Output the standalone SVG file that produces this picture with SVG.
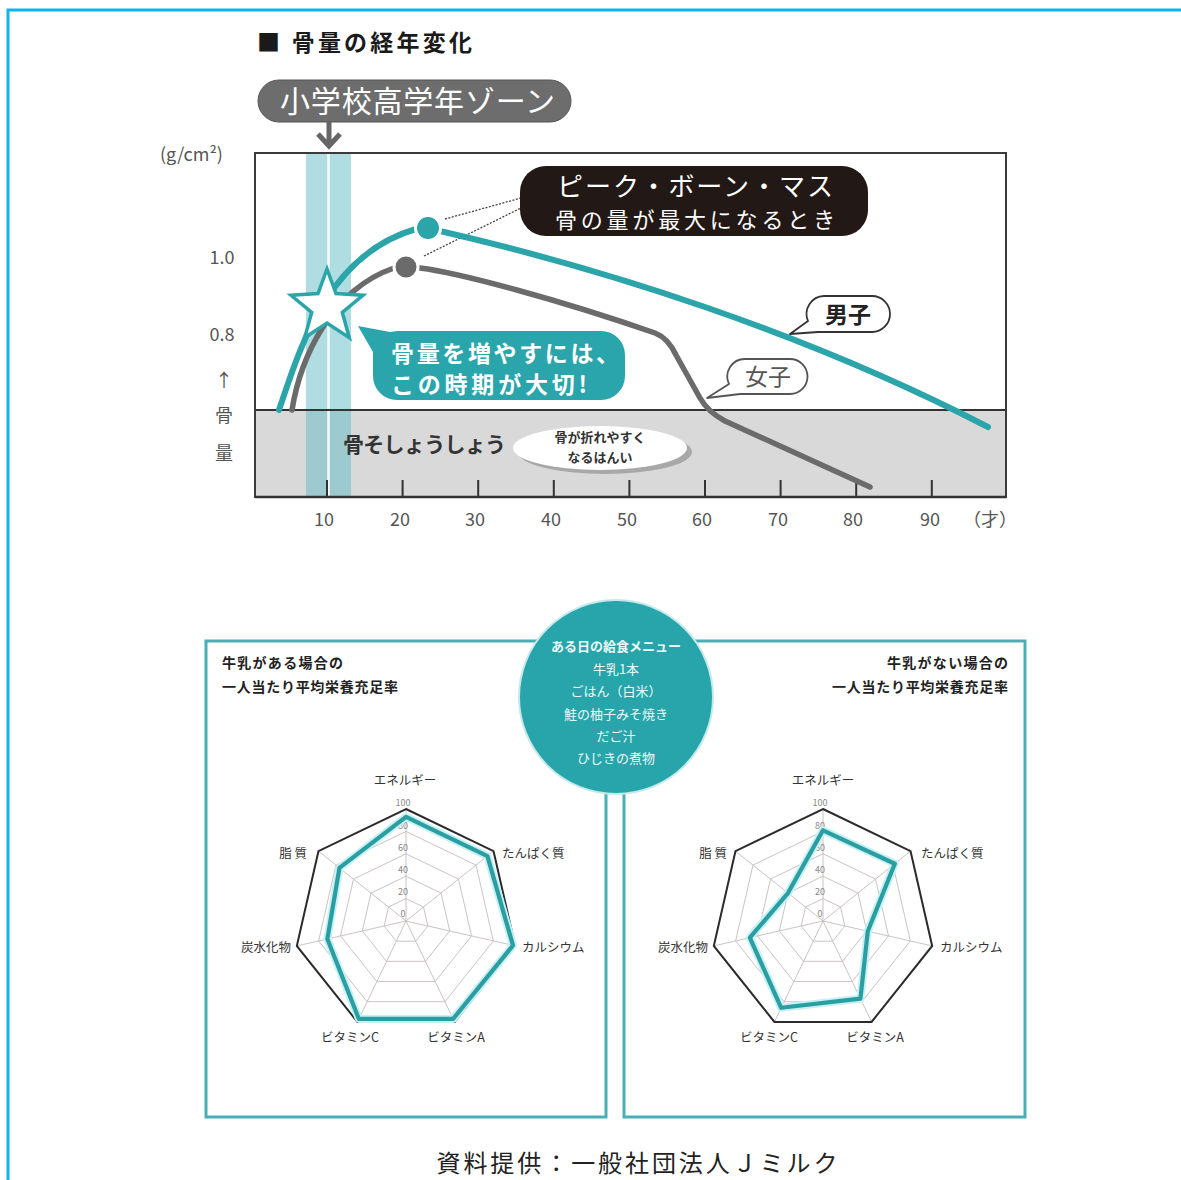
<svg xmlns="http://www.w3.org/2000/svg" xmlns:xlink="http://www.w3.org/1999/xlink" width="1181" height="1180" viewBox="0 0 1181 1180">
<style>
text{font-family:"Noto Sans CJK JP","Noto Sans",sans-serif}
.ax{fill:#555;font-size:18px}
.tick{stroke:#333;stroke-width:2}
.grid{fill:none;stroke:#c4bcbc;stroke-width:0.9}
.outer{fill:none;stroke:#2b2b2b;stroke-width:2}
.data-glow{fill:none;stroke:#c6f1f4;stroke-width:8;stroke-linejoin:round}
.data{fill:none;stroke:#2a9ea1;stroke-width:4.2;stroke-linejoin:round}
.rl{fill:#333;font-size:12.5px}
.sc{fill:#888;font-size:9px;text-anchor:middle}
.box{fill:#fff;stroke:#4aafb4;stroke-width:3}
.bt{fill:#222;font-size:14px;font-weight:bold}
.menu{fill:#eef9f9;font-size:13px;text-anchor:middle}
.lead{stroke:#444;stroke-width:1.3;stroke-dasharray:2 1.5;fill:none}
</style>
<defs>
<g id="radar-grid">
<polygon class="grid" points="0,-22.4 17.51,-13.97 21.84,4.98 9.72,20.18 -9.72,20.18 -21.84,4.98 -17.51,-13.97"/>
<polygon class="grid" points="0,-44.8 35.02,-27.93 43.68,9.97 19.44,40.36 -19.44,40.36 -43.68,9.97 -35.02,-27.93"/>
<polygon class="grid" points="0,-67.2 52.54,-41.9 65.51,14.95 29.16,60.55 -29.16,60.55 -65.51,14.95 -52.54,-41.9"/>
<polygon class="grid" points="0,-89.6 70.05,-55.86 87.35,19.94 38.88,80.73 -38.88,80.73 -87.35,19.94 -70.05,-55.86"/>
<path class="grid" d="M0,0L0,-112M0,0L87.56,-69.83M0,0L109.19,24.92M0,0L48.6,100.91M0,0L-48.6,100.91M0,0L-109.19,24.92M0,0L-87.56,-69.83"/>
<polygon class="outer" points="0,-112 87.56,-69.83 109.19,24.92 48.6,100.91 -48.6,100.91 -109.19,24.92 -87.56,-69.83"/>
<text class="sc" x="-3" y="-115">100</text>
<text class="sc" x="-3" y="-92">80</text>
<text class="sc" x="-3" y="-70">60</text>
<text class="sc" x="-3" y="-48">40</text>
<text class="sc" x="-3" y="-26">20</text>
<text class="sc" x="-3" y="-4">0</text>
</g>
</defs>
<rect width="1181" height="1180" fill="#fff"/>
<path d="M8,1180V10H1181" fill="none" stroke="#10b4ec" stroke-width="3"/>

<g id="title">
<text x="257" y="51" font-size="23" font-weight="bold" fill="#1a1a1a" textLength="215" lengthAdjust="spacing">■ 骨量の経年変化</text>
</g>

<g id="zone-label">
<rect x="258" y="80" width="313" height="42" rx="21" fill="#6d6d6d" stroke="#555" stroke-width="1"/>
<text x="280" y="112" font-size="30" fill="#fff" textLength="275" lengthAdjust="spacing">小学校高学年ゾーン</text>
</g>

<g id="chart-frame">
<rect x="255" y="153" width="751" height="344" fill="#fff"/>
<rect x="255" y="410" width="751" height="87" fill="#d9d9d9"/>
<rect x="306" y="153" width="45" height="344" fill="#5fbcc6" fill-opacity="0.5"/>
<line x1="328.5" y1="153" x2="328.5" y2="497" stroke="#f4fbfb" stroke-width="2.5"/>
<line x1="255" y1="410" x2="1006" y2="410" stroke="#333" stroke-width="1.8"/>
<rect x="255" y="153" width="751" height="344" fill="none" stroke="#3a3a3a" stroke-width="2"/>
<line x1="255" y1="497" x2="1006" y2="497" stroke="#333" stroke-width="2.6"/>
<path class="tick" d="M327,480V497M402.6,480V497M478.2,480V497M553.8,480V497M629.4,480V497M705,480V497M780.6,480V497M856.2,480V497M931.8,480V497"/>
<text class="ax" x="160" y="161" font-size="17">(g/cm²)</text>
<text class="ax" x="222" y="264" text-anchor="middle">1.0</text>
<text class="ax" x="222" y="341" text-anchor="middle">0.8</text>
<text class="ax" x="224" y="387" text-anchor="middle">↑</text>
<text class="ax" x="224" y="422" text-anchor="middle">骨</text>
<text class="ax" x="224" y="460" text-anchor="middle">量</text>
<g class="ax" text-anchor="middle">
<text x="324" y="526">10</text><text x="400" y="526">20</text><text x="475" y="526">30</text>
<text x="551" y="526">40</text><text x="627" y="526">50</text><text x="702" y="526">60</text>
<text x="778" y="526">70</text><text x="853" y="526">80</text><text x="930" y="526">90</text>
<text x="990" y="526">（才）</text>
</g>
<text x="343" y="452" font-size="21" font-weight="bold" fill="#333" textLength="163" lengthAdjust="spacing">骨そしょうしょう</text>
</g>

<g id="fracture-zone">
<ellipse cx="605" cy="452" rx="87" ry="22" fill="#a8a8a8"/>
<ellipse cx="600" cy="448" rx="87" ry="22" fill="#fff"/>
<text x="600" y="442" font-size="13" font-weight="bold" fill="#333" text-anchor="middle">骨が折れやすく</text>
<text x="600" y="462" font-size="13" font-weight="bold" fill="#333" text-anchor="middle">なるはんい</text>
</g>

<g id="connectors">
<path d="M329,122V145M318,134L329,146L340,134" fill="none" stroke="#666" stroke-width="5"/>
<path class="lead" d="M445,219L521,198"/>
<path class="lead" d="M424,256L521,208"/>
</g>

<g id="female-curve">
<path d="M292,410C300,360 330,290 394,268" fill="none" stroke="#6b6b6b" stroke-width="5.5" stroke-linecap="round"/>
<path d="M420,268C460,273 560,300 655,333Q668,338 676,355L700,398Q708,412 725,421L870,487" fill="none" stroke="#6b6b6b" stroke-width="5.5" stroke-linecap="round" stroke-linejoin="round"/>
<circle cx="406" cy="267" r="12" fill="#6b6b6b" stroke="#fff" stroke-width="3"/>
</g>

<g id="male-curve">
<path d="M279,410C298,355 325,255 416,229" fill="none" stroke="#2ba5aa" stroke-width="6" stroke-linecap="round"/>
<path d="M440,231C600,268 800,330 988,427" fill="none" stroke="#2ba5aa" stroke-width="6" stroke-linecap="round"/>
<circle cx="428" cy="228" r="12.5" fill="#2ba5aa" stroke="#fff" stroke-width="3"/>
</g>

<g id="star">
<polygon points="327,269 336,293.5 363,295.3 342.3,312.3 349.3,337.8 327,323 304.7,337.8 311.7,312.3 291,295.3 318,293.5" fill="#fff" stroke="#2ba5aa" stroke-width="3.5" stroke-linejoin="miter"/>
</g>

<g id="callout-important">
<path d="M397,331H601A24,24 0 0 1 625,355V376A24,24 0 0 1 601,400H397A24,24 0 0 1 373,376V352L358,326L390,332Z" fill="#2ba5ac"/>
<text x="391" y="362" font-size="23" font-weight="bold" fill="#fff" textLength="228" lengthAdjust="spacing">骨量を増やすには、</text>
<text x="391" y="393" font-size="23" font-weight="bold" fill="#fff" textLength="196" lengthAdjust="spacing">この時期が大切!</text>
</g>

<g id="callout-peak">
<rect x="520" y="166" width="348" height="70" rx="26" fill="#221815"/>
<text x="695" y="196" font-size="26" fill="#fff" text-anchor="middle" textLength="276" lengthAdjust="spacing">ピーク・ボーン・マス</text>
<text x="695" y="228" font-size="22" fill="#fff" text-anchor="middle" textLength="280" lengthAdjust="spacing">骨の量が最大になるとき</text>
</g>

<g id="label-male">
<path d="M824,296H872A18,18 0 0 1 872,332H818L790,334L808,321A18,18 0 0 1 824,296Z" fill="#fff" stroke="#333" stroke-width="1.8" stroke-linejoin="round"/>
<text x="848" y="323" font-size="23" font-weight="bold" fill="#222" text-anchor="middle">男子</text>
</g>

<g id="label-female">
<path d="M745,359H790A17.5,17.5 0 0 1 790,394H740L707,398L729,384A17.5,17.5 0 0 1 745,359Z" fill="#fff" stroke="#555" stroke-width="1.8" stroke-linejoin="round"/>
<text x="768" y="385" font-size="23" fill="#555" text-anchor="middle">女子</text>
</g>

<g id="box-with-milk">
<rect class="box" x="206" y="641" width="400" height="476"/>
<text class="bt" x="222" y="668" textLength="121" lengthAdjust="spacing">牛乳がある場合の</text>
<text class="bt" x="222" y="692" textLength="176" lengthAdjust="spacing">一人当たり平均栄養充足率</text>
</g>

<g id="box-without-milk">
<rect class="box" x="624" y="641" width="401" height="476"/>
<text class="bt" x="1008" y="668" text-anchor="end" textLength="121" lengthAdjust="spacing">牛乳がない場合の</text>
<text class="bt" x="1008" y="692" text-anchor="end" textLength="176" lengthAdjust="spacing">一人当たり平均栄養充足率</text>
</g>

<g id="menu-circle">
<circle cx="616" cy="697" r="97" fill="#27a5ab" stroke="#c4e9eb" stroke-width="2"/>
<text class="menu" x="616" y="651" font-weight="bold" font-size="13.5" fill="#fff">ある日の給食メニュー</text>
<text class="menu" x="616" y="674">牛乳1本</text>
<text class="menu" x="616" y="696">ごはん（白米）</text>
<text class="menu" x="616" y="719">鮭の柚子みそ焼き</text>
<text class="menu" x="616" y="741">だご汁</text>
<text class="menu" x="616" y="763">ひじきの煮物</text>
</g>

<g id="radar-with-milk">
<use xlink:href="#radar-grid" href="#radar-grid" transform="translate(406,921)"/>
<g transform="translate(406,921)">
<polygon class="data-glow" points="0,-104.16 81.43,-64.94 107,24.42 47.14,97.88 -47.14,97.88 -78.62,17.94 -66.55,-53.07"/>
<polygon class="data" points="0,-104.16 81.43,-64.94 107,24.42 47.14,97.88 -47.14,97.88 -78.62,17.94 -66.55,-53.07"/>
</g>
<text class="rl" x="405" y="785" text-anchor="middle">エネルギー</text>
<text class="rl" x="502" y="858">たんぱく質</text>
<text class="rl" x="522" y="952">カルシウム</text>
<text class="rl" x="456" y="1042" text-anchor="middle">ビタミンA</text>
<text class="rl" x="350" y="1042" text-anchor="middle">ビタミンC</text>
<text class="rl" x="291" y="952" text-anchor="end">炭水化物</text>
<text class="rl" x="307" y="858" text-anchor="end">脂 質</text>
</g>

<g id="radar-without-milk">
<use xlink:href="#radar-grid" href="#radar-grid" transform="translate(823,921)"/>
<g transform="translate(823,921)">
<polygon class="data-glow" points="0,-90.72 71.8,-57.26 44.77,10.22 37.42,77.7 -41.8,86.78 -73.16,16.7 -35.02,-27.93"/>
<polygon class="data" points="0,-90.72 71.8,-57.26 44.77,10.22 37.42,77.7 -41.8,86.78 -73.16,16.7 -35.02,-27.93"/>
</g>
<text class="rl" x="823" y="785" text-anchor="middle">エネルギー</text>
<text class="rl" x="921" y="858">たんぱく質</text>
<text class="rl" x="940" y="952">カルシウム</text>
<text class="rl" x="875" y="1042" text-anchor="middle">ビタミンA</text>
<text class="rl" x="769" y="1042" text-anchor="middle">ビタミンC</text>
<text class="rl" x="708" y="952" text-anchor="end">炭水化物</text>
<text class="rl" x="727" y="858" text-anchor="end">脂 質</text>
</g>

<g id="footer">
<text x="637" y="1172" font-size="24" fill="#222" text-anchor="middle" textLength="401" lengthAdjust="spacing">資料提供：一般社団法人Ｊミルク</text>
</g>
</svg>
